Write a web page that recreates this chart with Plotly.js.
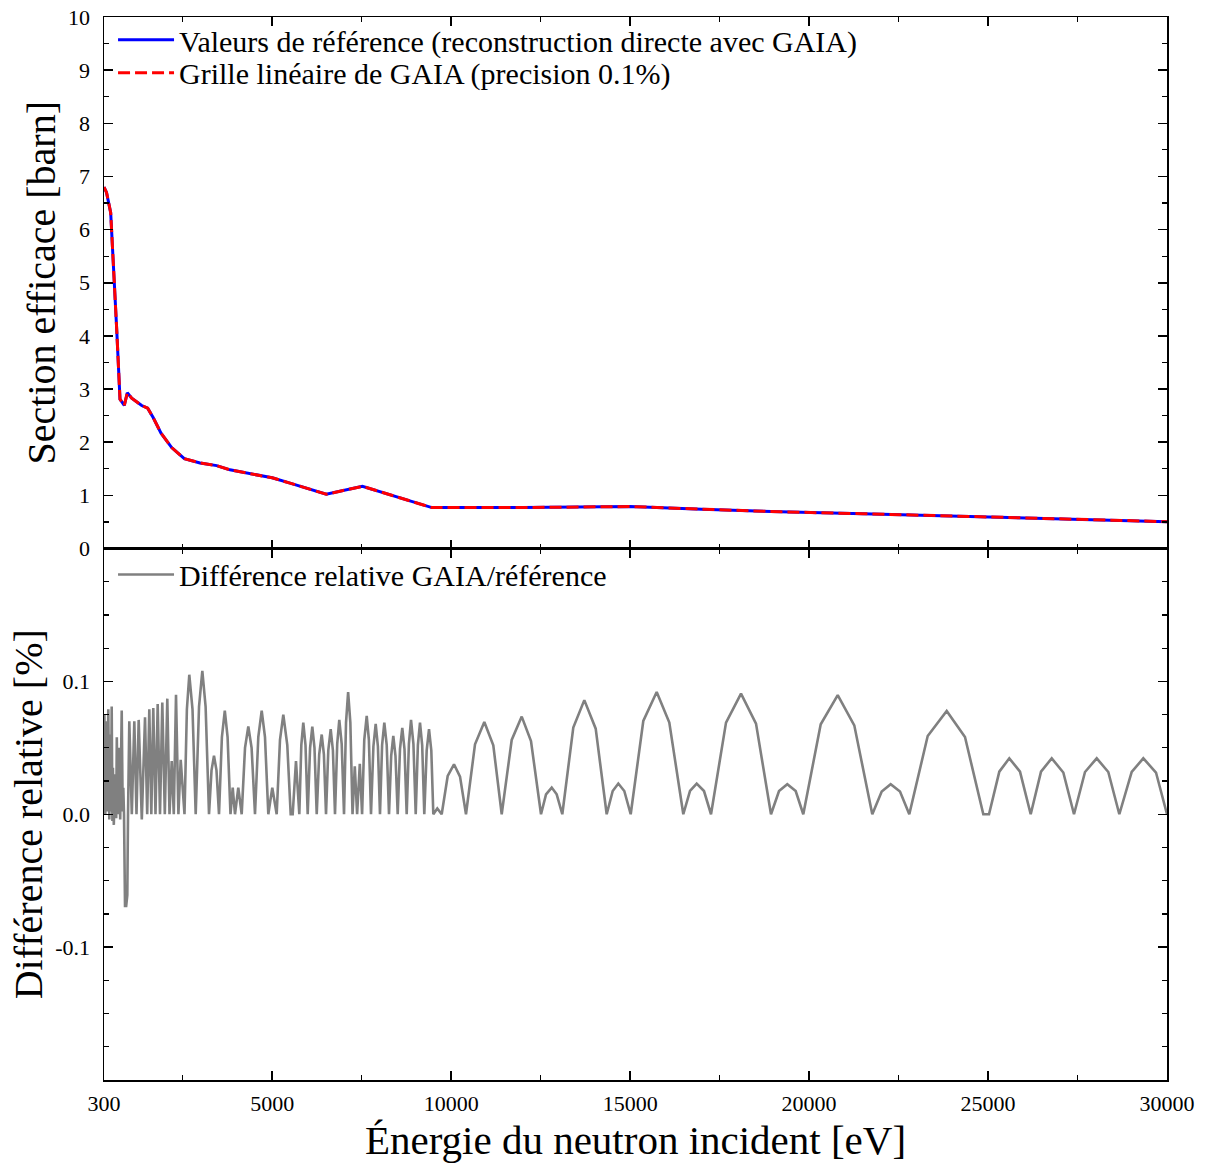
<!DOCTYPE html>
<html><head><meta charset="utf-8">
<script src="https://cdn.plot.ly/plotly-3.0.1.min.js"></script>
<style>body{margin:0;background:#fff}</style>
</head><body><div id="chart" style="width:1209px;height:1163px"></div>
<script>
// Section efficace (panneau du haut)
const energyXS = [300, 370, 487, 560, 655, 747, 867, 951, 1074, 1353, 1521, 1677, 1893, 2191, 2544, 2982, 3449, 3820, 5000, 5497, 6510, 7520, 8470, 9460, 12000, 15000, 17000, 19200, 21500, 24300, 27000, 30000];
const sigmaReference = [6.80, 6.70, 6.32, 5.24, 4.12, 2.81, 2.69, 2.93, 2.83, 2.69, 2.64, 2.46, 2.17, 1.90, 1.69, 1.61, 1.56, 1.48, 1.33, 1.23, 1.02, 1.17, 0.98, 0.77, 0.77, 0.79, 0.74, 0.69, 0.655, 0.61, 0.56, 0.505];
const sigmaGaia = [6.80, 6.70, 6.32, 5.24, 4.12, 2.81, 2.69, 2.93, 2.83, 2.69, 2.64, 2.46, 2.17, 1.90, 1.69, 1.61, 1.56, 1.48, 1.33, 1.23, 1.02, 1.17, 0.98, 0.77, 0.77, 0.79, 0.74, 0.69, 0.655, 0.61, 0.56, 0.505];

// Différence relative (panneau du bas), en %
const energyDiff = [300, 311, 336, 361, 389, 420, 448, 476, 496, 515, 535, 549, 574, 607, 641, 658, 686, 719, 753, 795, 822, 839, 859, 887, 920, 951, 971,
  1007, 1077, 1147, 1208, 1269, 1356, 1446, 1507, 1566, 1622, 1677, 1739, 1800, 1865, 1929, 1999, 2069, 2130, 2192, 2250, 2312, 2379, 2443, 2549,
  2616, 2683, 2773, 2862, 2955, 3047, 3139, 3234, 3304, 3373, 3443, 3513, 3594, 3675, 3753, 3834, 3896, 3960, 4052, 4147,
  4240, 4332, 4424, 4519, 4611, 4706, 4798, 4891, 5002, 5125, 5217, 5310, 5421, 5516, 5572, 5664, 5757,
  5813, 5868, 5930, 5991, 6058, 6120, 6181, 6243, 6313, 6383, 6444, 6503, 6567, 6634, 6696, 6754, 6816, 6874, 6941, 7006,
  7062, 7121, 7183, 7244, 7307, 7372, 7447, 7511, 7572, 7640, 7701, 7760, 7827, 7891, 7953, 8011, 8070, 8132, 8199, 8263,
  8324, 8383, 8444, 8506, 8570, 8634, 8696, 8757, 8819, 8878, 8945, 9009, 9070, 9129, 9190, 9249, 9316, 9381, 9445, 9501,
  9612, 9735, 9903, 10079, 10247, 10414, 10666, 10926, 11177, 11412, 11691, 11971, 12230, 12510, 12650, 12809, 12948, 13105,
  13412, 13720, 14038, 14345, 14513, 14670, 14837, 15016, 15368, 15742, 16095, 16486, 16673, 16860, 17064, 17260,
  17679, 18098, 18517, 18936, 19160, 19391, 19626, 19838, 20325, 20800, 21263, 21766, 22029, 22280, 22540, 22800,
  23314, 23845, 24356, 24868, 25027, 25315, 25594, 25893, 26192, 26480, 26779, 27103, 27402, 27709, 28036, 28360, 28668,
  29014, 29338, 29693, 30000];
const relDiff = [0.0, 0.075, 0.0, 0.070, 0.002, 0.079, -0.004, 0.060, 0.002, 0.081, -0.005, 0.035, -0.008, 0.030, -0.003, 0.058, 0.0, 0.050, -0.004, 0.078, 0.002, 0.020, 0.0, -0.069, -0.069, -0.061, 0.0,
  0.070, 0.0, 0.070, 0.0, 0.071, -0.004, 0.073, 0.0, 0.079, 0.0, 0.080, 0.0, 0.083, 0.0, 0.084, 0.0, 0.087, 0.0, 0.040, 0.0, 0.090, 0.0, 0.041, 0.0,
  0.079, 0.105, 0.079, 0.0, 0.081, 0.108, 0.081, 0.0, 0.033, 0.044, 0.033, 0.0, 0.058, 0.078, 0.058, 0.0, 0.020, 0.0, 0.020, 0.0,
  0.050, 0.066, 0.050, 0.0, 0.058, 0.078, 0.058, 0.0, 0.020, 0.0, 0.056, 0.075, 0.052, 0.0, 0.0, 0.040, 0.0,
  0.052, 0.069, 0.052, 0.0, 0.050, 0.066, 0.050, 0.0, 0.045, 0.060, 0.045, 0.0, 0.048, 0.064, 0.048, 0.0, 0.053, 0.071, 0.053, 0.0,
  0.069, 0.092, 0.069, 0.0, 0.036, 0.0, 0.038, 0.0, 0.056, 0.074, 0.056, 0.0, 0.051, 0.068, 0.051, 0.0, 0.052, 0.069, 0.052, 0.0,
  0.044, 0.059, 0.044, 0.0, 0.049, 0.065, 0.049, 0.0, 0.053, 0.071, 0.053, 0.0, 0.052, 0.069, 0.052, 0.0, 0.048, 0.064, 0.048, 0.0,
  0.0043, 0.0, 0.0288, 0.0376, 0.0283, 0.0, 0.0526, 0.0694, 0.0519, 0.0, 0.0559, 0.0735, 0.0551, 0.0, 0.015, 0.0201, 0.015, 0.0,
  0.0652, 0.0859, 0.0644, 0.0, 0.0175, 0.0231, 0.0175, 0.0, 0.0702, 0.092, 0.069, 0.0, 0.0175, 0.0231, 0.0175, 0.0,
  0.069, 0.0908, 0.0682, 0.0, 0.0175, 0.0226, 0.0175, 0.0, 0.0677, 0.0897, 0.0669, 0.0, 0.0171, 0.0226, 0.0171, 0.0,
  0.0589, 0.0777, 0.0581, 0.0, 0.0, 0.0321, 0.0421, 0.0321, 0.0, 0.0321, 0.0421, 0.0314, 0.0, 0.0318, 0.0421, 0.0318, 0.0,
  0.0318, 0.0421, 0.0314, 0.0];

const xTickVals = [300, 5000, 10000, 15000, 20000, 25000, 30000];
const xTickText = ['300', '5000', '10000', '15000', '20000', '25000', '30000'];
const xMinorVals = [2500, 7500, 12500, 17500, 22500, 27500];
const diffTickVals = [-0.1, 0.0, 0.1];
const diffTickText = ['-0.1', '0.0', '0.1'];

const FONT = 'Liberation Serif, Times New Roman, serif';

const traces = [
  {x: energyXS, y: sigmaReference, xaxis: 'x2', yaxis: 'y2', type: 'scatter', mode: 'lines',
   name: 'Valeurs de référence (reconstruction directe avec GAIA)', legend: 'legend',
   line: {color: '#0000ff', width: 3}},
  {x: energyXS, y: sigmaGaia, xaxis: 'x2', yaxis: 'y2', type: 'scatter', mode: 'lines',
   name: 'Grille linéaire de GAIA (precision 0.1%)', legend: 'legend3',
   line: {color: '#ff0000', width: 3, dash: '12px,5px'}},
  {x: energyDiff, y: relDiff, xaxis: 'x', yaxis: 'y', type: 'scatter', mode: 'lines',
   name: 'Différence relative GAIA/référence', legend: 'legend2',
   line: {color: '#808080', width: 2.6}}
];

const axCommon = {
  showline: true, linecolor: '#000', linewidth: 1.5, mirror: 'allticks',
  ticks: 'inside', ticklen: 9, tickwidth: 1.5, tickcolor: '#000',
  showgrid: false, zeroline: false, automargin: false,
  tickfont: {family: FONT, size: 22, color: '#000'}
};

const legFont = {family: FONT, size: 30, color: '#000'};
const legCommon = {xanchor: 'left', yanchor: 'top', bgcolor: 'rgba(0,0,0,0)', font: legFont, itemwidth: 56, x: 0.0085};

const layout = {
  width: 1209, height: 1163,
  margin: {l: 104, r: 42, t: 17, b: 83},
  paper_bgcolor: '#fff', plot_bgcolor: '#fff',
  font: {family: FONT, color: '#000'},
  showlegend: true,
  xaxis: Object.assign({}, axCommon, {
    anchor: 'y', domain: [0, 1], range: [300, 30000],
    tickmode: 'array', tickvals: xTickVals, ticktext: xTickText, ticklabelstandoff: 3,
    minor: {tickmode: 'array', tickvals: xMinorVals, ticks: 'inside', ticklen: 5, tickwidth: 1.2, tickcolor: '#000'},
    title: {text: 'Énergie du neutron incident [eV]', font: {family: FONT, size: 41, color: '#000'}, standoff: 10}
  }),
  yaxis: Object.assign({}, axCommon, {
    anchor: 'x', domain: [0, 0.5], range: [-0.2, 0.2],
    tickmode: 'array', tickvals: diffTickVals, ticktext: diffTickText, ticklabelstandoff: 8,
    minor: {dtick: 0.025, tick0: 0, ticks: 'inside', ticklen: 5, tickwidth: 1.2, tickcolor: '#000'},
    title: {text: 'Différence relative [%]', font: {family: FONT, size: 40, color: '#000'}, standoff: 0}
  }),
  xaxis2: Object.assign({}, axCommon, {
    anchor: 'y2', domain: [0, 1], range: [300, 30000], matches: 'x',
    tickmode: 'array', tickvals: xTickVals, showticklabels: false,
    minor: {tickmode: 'array', tickvals: xMinorVals, ticks: 'inside', ticklen: 5, tickwidth: 1.2, tickcolor: '#000'}
  }),
  yaxis2: Object.assign({}, axCommon, {
    anchor: 'x2', domain: [0.5, 1], range: [0, 10],
    tickmode: 'linear', tick0: 0, dtick: 1, ticklabelstandoff: 8,
    minor: {dtick: 0.5, tick0: 0, ticks: 'inside', ticklen: 5, tickwidth: 1.2, tickcolor: '#000'},
    title: {text: 'Section efficace [barn]', font: {family: FONT, size: 40, color: '#000'}, standoff: 0}
  }),
  legend: Object.assign({}, legCommon, {y: 1.003}),
  legend3: Object.assign({}, legCommon, {y: 0.972}),
  legend2: Object.assign({}, legCommon, {y: 0.5})
};

Plotly.newPlot('chart', traces, layout, {displayModeBar: false, staticPlot: true});
</script>
</body></html>
